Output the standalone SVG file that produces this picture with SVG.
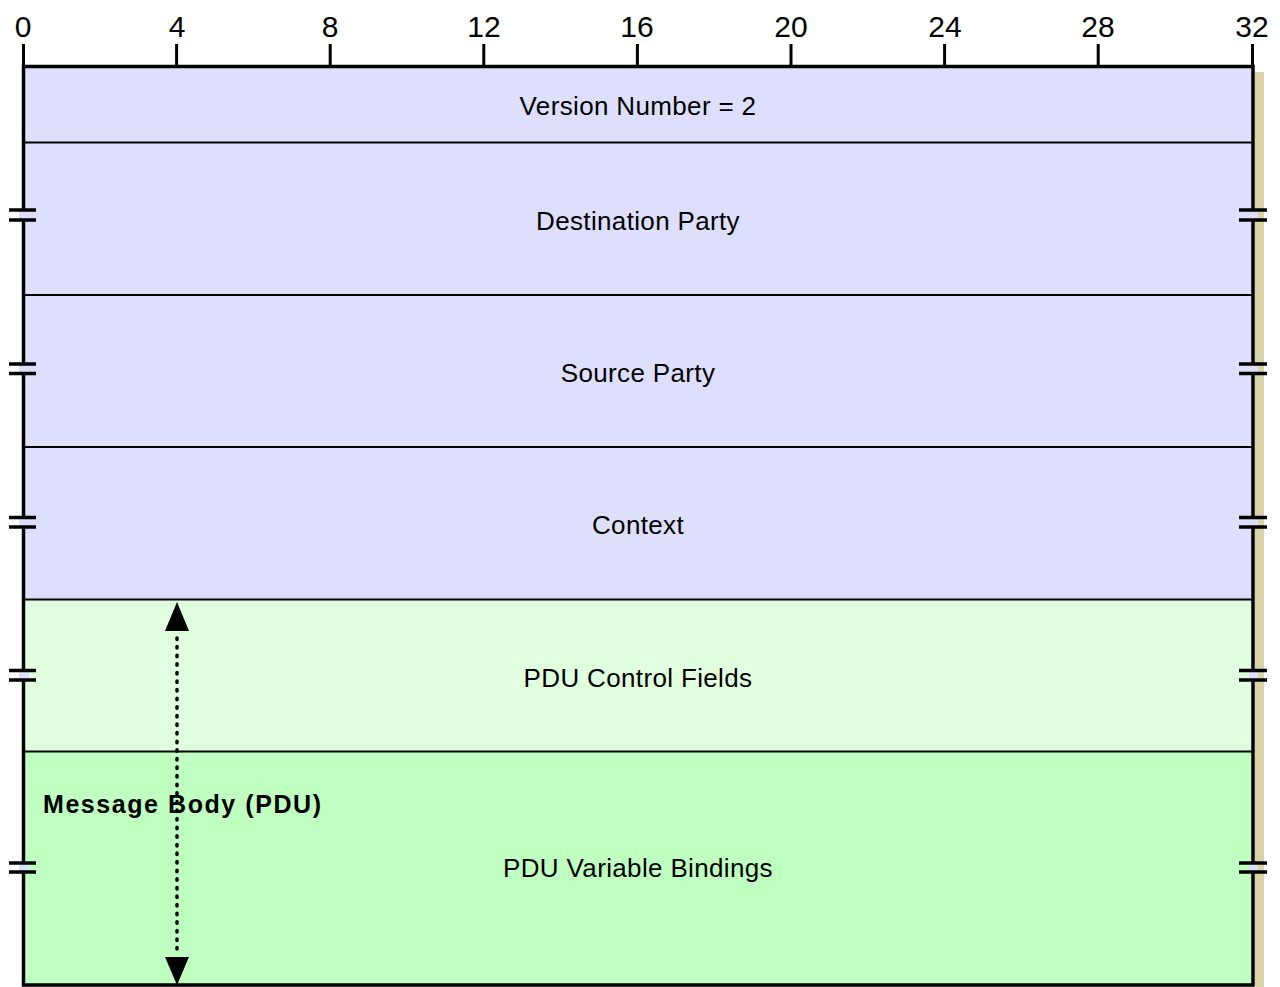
<svg xmlns="http://www.w3.org/2000/svg" width="1280" height="987" viewBox="0 0 1280 987">
<defs>
<style>
.ruler text{font-family:"Liberation Sans",Arial,sans-serif;font-size:30px;fill:#000;text-anchor:middle}
.tick{stroke:#000;stroke-width:3}
.lbl{font-family:"Liberation Sans",Arial,sans-serif;font-size:26px;fill:#000;text-anchor:middle;letter-spacing:0.35px}
.bold{font-family:"Liberation Sans",Arial,sans-serif;font-size:25px;font-weight:bold;fill:#000}
.div{stroke:#000;stroke-width:2}
.brk{stroke:#000;stroke-width:3.5}
.gap{fill:#dedefd}
</style>
</defs>
<rect width="1280" height="987" fill="#fff"/>
<rect x="1255" y="72" width="9" height="920" fill="#d8d4a8"/>
<g id="ruler" class="ruler">
<text x="23" y="37">0</text>
<text x="177" y="37">4</text>
<text x="330" y="37">8</text>
<text x="484" y="37">12</text>
<text x="637" y="37">16</text>
<text x="791" y="37">20</text>
<text x="945" y="37">24</text>
<text x="1098" y="37">28</text>
<text x="1252" y="37">32</text>
<path class="tick" d="M23.5,44V66M176.6,44V66M330.2,44V66M483.8,44V66M637.4,44V66M791,44V66M944.6,44V66M1098.2,44V66M1252.5,44V66"/>
</g>
<g id="version">
<rect x="23.5" y="66.5" width="1229.5" height="76" fill="#dedefd"/>
<text class="lbl" x="638" y="115">Version Number = 2</text>
</g>
<g id="destination">
<rect x="23.5" y="142.5" width="1229.5" height="152.5" fill="#dedefd"/>
<text class="lbl" x="638" y="230">Destination Party</text>
</g>
<g id="source">
<rect x="23.5" y="295" width="1229.5" height="152" fill="#dedefd"/>
<text class="lbl" x="638" y="382">Source Party</text>
</g>
<g id="context">
<rect x="23.5" y="447" width="1229.5" height="152.5" fill="#dedefd"/>
<text class="lbl" x="638" y="534">Context</text>
</g>
<g id="pdu-control">
<rect x="23.5" y="599.5" width="1229.5" height="152" fill="#dfffdf"/>
<text class="lbl" x="638" y="687">PDU Control Fields</text>
</g>
<g id="pdu-bindings">
<rect x="23.5" y="751.5" width="1229.5" height="234" fill="#bfffbf"/>
<text class="lbl" x="638" y="877">PDU Variable Bindings</text>
</g>
<g id="frame">
<path class="div" d="M23.5,142.5H1253M23.5,295H1253M23.5,447H1253M23.5,599.5H1253M23.5,751.5H1253"/>
<rect x="23.5" y="66.5" width="1229.5" height="918.5" fill="none" stroke="#000" stroke-width="3.5"/>
</g>
<g id="breaks">
<g id="brk1">
<rect class="gap" x="19" y="211" width="10" height="8"/><rect class="gap" x="1249" y="211" width="9" height="8"/>
<path class="brk" d="M9,210H36M9,220H36M1239,210H1267M1239,220H1267"/>
</g>
<g id="brk2">
<rect class="gap" x="19" y="365" width="10" height="8"/><rect class="gap" x="1249" y="365" width="9" height="8"/>
<path class="brk" d="M9,364H36M9,373.5H36M1239,364H1267M1239,373.5H1267"/>
</g>
<g id="brk3">
<rect class="gap" x="19" y="518" width="10" height="8"/><rect class="gap" x="1249" y="518" width="9" height="8"/>
<path class="brk" d="M9,517.5H36M9,527H36M1239,517.5H1267M1239,527H1267"/>
</g>
<g id="brk4">
<rect class="gap" x="19" y="671" width="10" height="8"/><rect class="gap" x="1249" y="671" width="9" height="8"/>
<path class="brk" d="M9,670.5H36M9,680H36M1239,670.5H1267M1239,680H1267"/>
</g>
<g id="brk5">
<rect class="gap" x="19" y="863" width="10" height="8"/><rect class="gap" x="1249" y="863" width="9" height="8"/>
<path class="brk" d="M9,863H36M9,872H36M1239,863H1267M1239,872H1267"/>
</g>
</g>
<g id="message-body">
<text class="bold" x="43" y="813" textLength="278" lengthAdjust="spacing">Message Body (PDU)</text>
</g>
<g id="connectors">
<line x1="177" y1="638" x2="177" y2="955" stroke="#000" stroke-width="3.5" stroke-linecap="round" stroke-dasharray="1.5 7.1"/>
<path d="M177,602 L189,631 L165,631 Z" fill="#000"/>
<path d="M177,985 L189,957 L165,957 Z" fill="#000"/>
</g>
</svg>
